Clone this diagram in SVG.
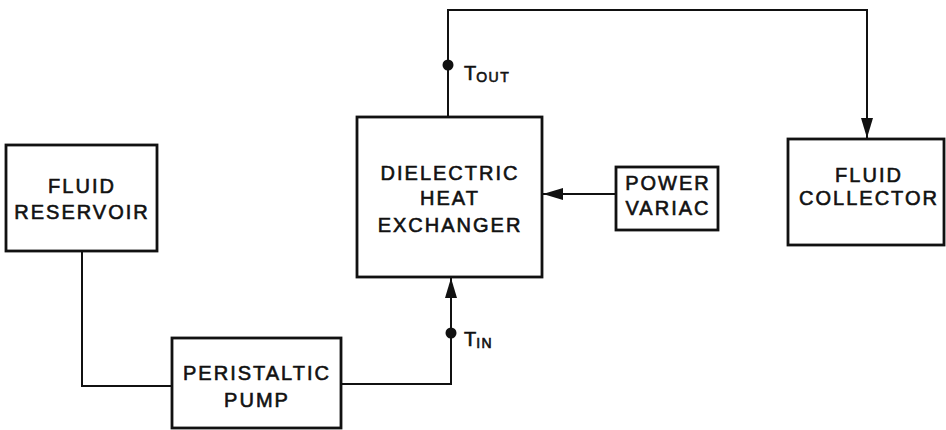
<svg xmlns="http://www.w3.org/2000/svg" width="946" height="430" viewBox="0 0 946 430">
<defs>
<style>
.box{fill:#fff;stroke:#111;stroke-width:2.8}
.ln{fill:none;stroke:#111;stroke-width:2}
.t{font-family:"Liberation Sans",Arial,sans-serif;font-size:20px;letter-spacing:2px;fill:#111;stroke:#111;stroke-width:0.6;text-anchor:middle}
.lab{font-family:"Liberation Sans",Arial,sans-serif;fill:#111;stroke:#111;stroke-width:0.6}
</style>
<marker id="ah2" viewBox="0 0 20 12" refX="20" refY="6" markerWidth="20" markerHeight="12" markerUnits="userSpaceOnUse" orient="auto">
<path d="M0,0 L20,6 L0,12 Z" fill="#111"/>
</marker>
</defs>
<g id="connectors">
<polyline class="ln" points="82,251 82,386 172,386"/>
<polyline class="ln" points="341,384 451,384 451,278" marker-end="url(#ah2)"/>
<line class="ln" x1="616" y1="194" x2="543" y2="194" marker-end="url(#ah2)"/>
<polyline class="ln" points="448,117 448,10 867,10 867,138" marker-end="url(#ah2)"/>
<circle cx="448" cy="65" r="5.5" fill="#111"/>
<circle cx="451" cy="333" r="5.5" fill="#111"/>
<text class="lab" x="464" y="80" font-size="20">T<tspan font-size="14" dy="2" letter-spacing="1.5">OUT</tspan></text>
<text class="lab" x="464" y="346" font-size="20">T<tspan font-size="14" dy="2" letter-spacing="1.5">IN</tspan></text>
</g>
<g id="fluid-reservoir">
<rect class="box" x="6" y="145" width="151" height="106"/>
<text class="t" x="82" y="193">FLUID</text>
<text class="t" x="82" y="219">RESERVOIR</text>
</g>
<g id="dielectric-heat-exchanger">
<rect class="box" x="357" y="117" width="185" height="160"/>
<text class="t" x="450" y="180">DIELECTRIC</text>
<text class="t" x="450" y="205">HEAT</text>
<text class="t" x="450" y="232">EXCHANGER</text>
</g>
<g id="power-variac">
<rect class="box" x="616" y="167" width="102" height="63"/>
<text class="t" x="668" y="190">POWER</text>
<text class="t" x="668" y="215">VARIAC</text>
</g>
<g id="fluid-collector">
<rect class="box" x="788" y="139" width="156" height="106"/>
<text class="t" x="869" y="182">FLUID</text>
<text class="t" x="869" y="205">COLLECTOR</text>
</g>
<g id="peristaltic-pump">
<rect class="box" x="172" y="338" width="169" height="90"/>
<text class="t" x="257" y="380">PERISTALTIC</text>
<text class="t" x="257" y="407">PUMP</text>
</g>
</svg>
